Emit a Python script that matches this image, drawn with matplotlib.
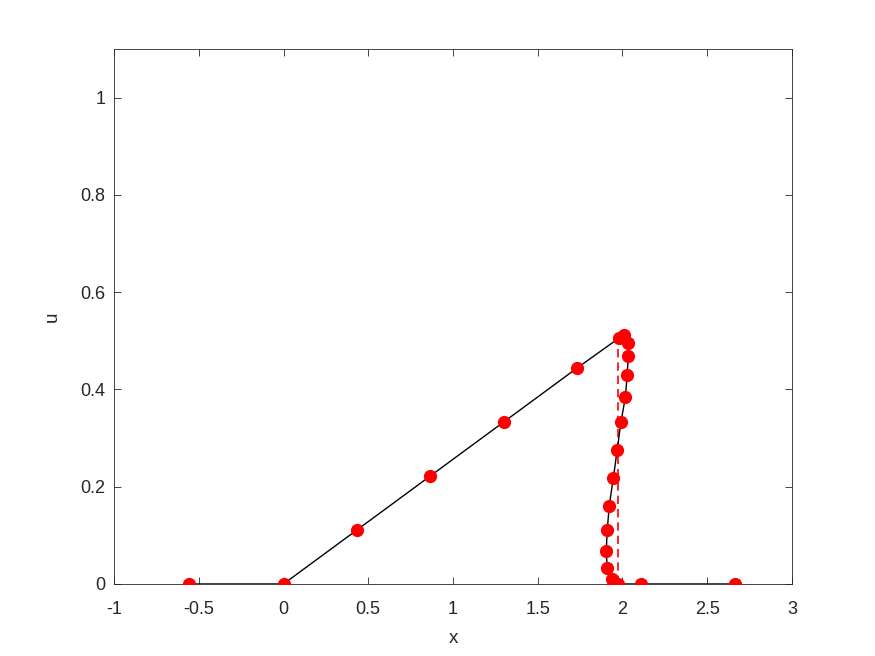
import matplotlib
matplotlib.use("Agg")
import matplotlib.pyplot as plt

plt.rcParams['font.family'] = ['Liberation Sans', 'DejaVu Sans']

x = [-0.557, 0.0, 0.433, 0.866, 1.299, 1.732, 1.981, 2.011, 2.031, 2.034, 2.028,
     2.017, 1.991, 1.969, 1.946, 1.922, 1.910, 1.904, 1.910, 1.936, 1.975, 2.111, 2.664]
u = [0.0, 0.0, 0.111, 0.222, 0.333, 0.444, 0.506, 0.511, 0.495, 0.469, 0.430,
     0.384, 0.333, 0.276, 0.218, 0.161, 0.110, 0.067, 0.032, 0.010, 0.0, 0.0, 0.0]
shock_x = [1.975, 1.975]
shock_u = [0.0, 0.506]

fig = plt.figure(figsize=(8.75, 6.56), dpi=100)
ax = fig.add_axes([0.1303, 0.1098, 0.7748, 0.8155])
ax.plot(x, u, color='black', linewidth=1.0, zorder=2)
ax.plot(x, u, 'o', color='red', markersize=8.5, zorder=3)
ax.plot(shock_x, shock_u, color='red', linewidth=1.2, zorder=1,
        linestyle=(0, (5, 3)))

ax.set_xlim(-1, 3)
ax.set_ylim(0, 1.1)
ax.set_xticks([-1, -0.5, 0, 0.5, 1, 1.5, 2, 2.5, 3])
ax.set_xticklabels(['-1', '-0.5', '0', '0.5', '1', '1.5', '2', '2.5', '3'])
ax.set_yticks([0, 0.2, 0.4, 0.6, 0.8, 1])
ax.set_yticklabels(['0', '0.2', '0.4', '0.6', '0.8', '1'])
ax.tick_params(direction='in', top=True, right=True, labelsize=13,
               colors='#262626', length=5, width=0.6)
ax.tick_params(axis='x', pad=12)
ax.tick_params(axis='y', pad=6)
for s in ax.spines.values():
    s.set_color('#262626')
    s.set_linewidth(0.6)
ax.set_xlabel('x', fontsize=13.5, color='#262626', labelpad=9)
ax.set_ylabel('u', fontsize=13.5, color='#262626', labelpad=14)

fig.savefig('out.png', dpi=100)
